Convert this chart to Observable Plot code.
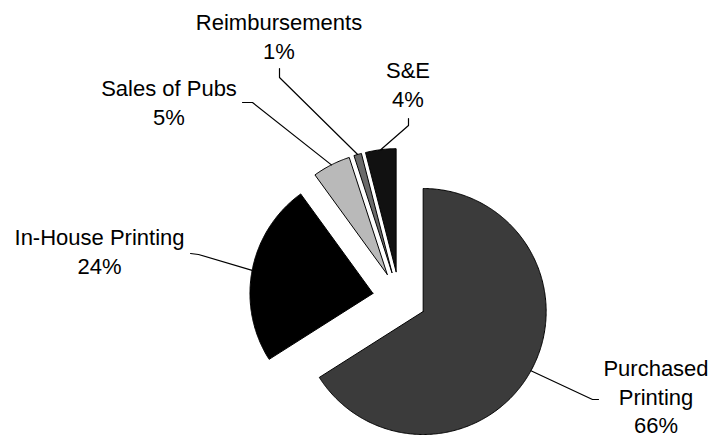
<!DOCTYPE html>
<html>
<head>
<meta charset="utf-8">
<script src="https://cdn.jsdelivr.net/npm/d3@7"></script>
<script src="https://cdn.jsdelivr.net/npm/@observablehq/plot@0.6"></script>
<style>
  html, body { margin: 0; padding: 0; background: #fff; }
  #chart { width: 713px; height: 439px; }
</style>
</head>
<body>
<div id="chart"></div>
<script>
// ---- data ----
const categories = ["Purchased Printing", "In-House Printing", "Sales of Pubs", "Reimbursements", "S&E"];
const shares = [66, 24, 5, 1, 4];
const labelNames = ["Purchased\nPrinting", "In-House Printing", "Sales of Pubs", "Reimbursements", "S&E"];

// ---- style / layout ----
const fills = ["#3b3b3b", "#000000", "#b9b9b9", "#6a6a6a", "#111111"];
const pie = {cx: 399, cy: 298, r: 123, explode: 27};
// label centre x, first-line baseline y, leader elbow and leader end (near text)
const labelLayout = [
  {x: 655.5, base: 371, elbow: [592, 399], end: [598, 399]},
  {x: 99,    base: 240, elbow: [198, 254], end: [190, 253]},
  {x: 168.5, base: 91,  elbow: [252, 102], end: [242, 102]},
  {x: 278.5, base: 25,  elbow: [279, 77],  end: [279, 68]},
  {x: 407.5, base: 73,  elbow: [408, 125], end: [408, 118]}
];
const fontSize = 22;

// ---- geometry derived from the shares ----
const total = d3.sum(shares);
let acc = 0;
const slices = categories.map((name, i) => {
  const a0 = acc / total * 2 * Math.PI;
  acc += shares[i];
  const a1 = acc / total * 2 * Math.PI;
  const mid = (a0 + a1) / 2;
  const ax = pie.cx + pie.explode * Math.sin(mid);
  const ay = pie.cy - pie.explode * Math.cos(mid);
  return {name, i, a0, a1, mid, ax, ay};
});

const slicePts = [];
for (const s of slices) {
  slicePts.push({name: s.name, x: s.ax, y: s.ay});
  const n = Math.max(4, Math.ceil((s.a1 - s.a0) / 0.01));
  for (let k = 0; k <= n; k++) {
    const t = s.a0 + (s.a1 - s.a0) * k / n;
    slicePts.push({name: s.name, x: s.ax + pie.r * Math.sin(t), y: s.ay - pie.r * Math.cos(t)});
  }
  slicePts.push({name: s.name, x: s.ax, y: s.ay});
}

const leaderPts = [];
slices.forEach((s, i) => {
  const L = labelLayout[i];
  leaderPts.push({name: s.name, x: s.ax + pie.r * Math.sin(s.mid), y: s.ay - pie.r * Math.cos(s.mid)});
  leaderPts.push({name: s.name, x: L.elbow[0], y: L.elbow[1]});
  leaderPts.push({name: s.name, x: L.end[0], y: L.end[1]});
});

const labels = slices.map((s, i) => ({
  name: s.name,
  text: labelNames[i] + "\n" + shares[i] + "%",
  x: labelLayout[i].x,
  y: labelLayout[i].base - 0.71 * fontSize
}));

const chart = Plot.plot({
  width: 713,
  height: 439,
  margin: 0,
  style: {background: "#ffffff"},
  x: {domain: [0, 713], range: [0, 713], axis: null},
  y: {domain: [0, 439], range: [0, 439], axis: null},
  color: {type: "ordinal", domain: categories, range: fills},
  marks: [
    Plot.line(slicePts, {x: "x", y: "y", z: "name", fill: "name", stroke: "#000", strokeWidth: 1, strokeLinejoin: "miter"}),
    Plot.line(leaderPts, {x: "x", y: "y", z: "name", stroke: "#000", strokeWidth: 1.2}),
    Plot.text(labels, {
      x: "x", y: "y", text: "text",
      textAnchor: "middle", lineAnchor: "top", lineHeight: 1.3,
      fontSize: fontSize, fontFamily: "'Liberation Sans', Arial, sans-serif",
      fill: "#000"
    })
  ]
});
document.getElementById("chart").appendChild(chart);
</script>
</body>
</html>
